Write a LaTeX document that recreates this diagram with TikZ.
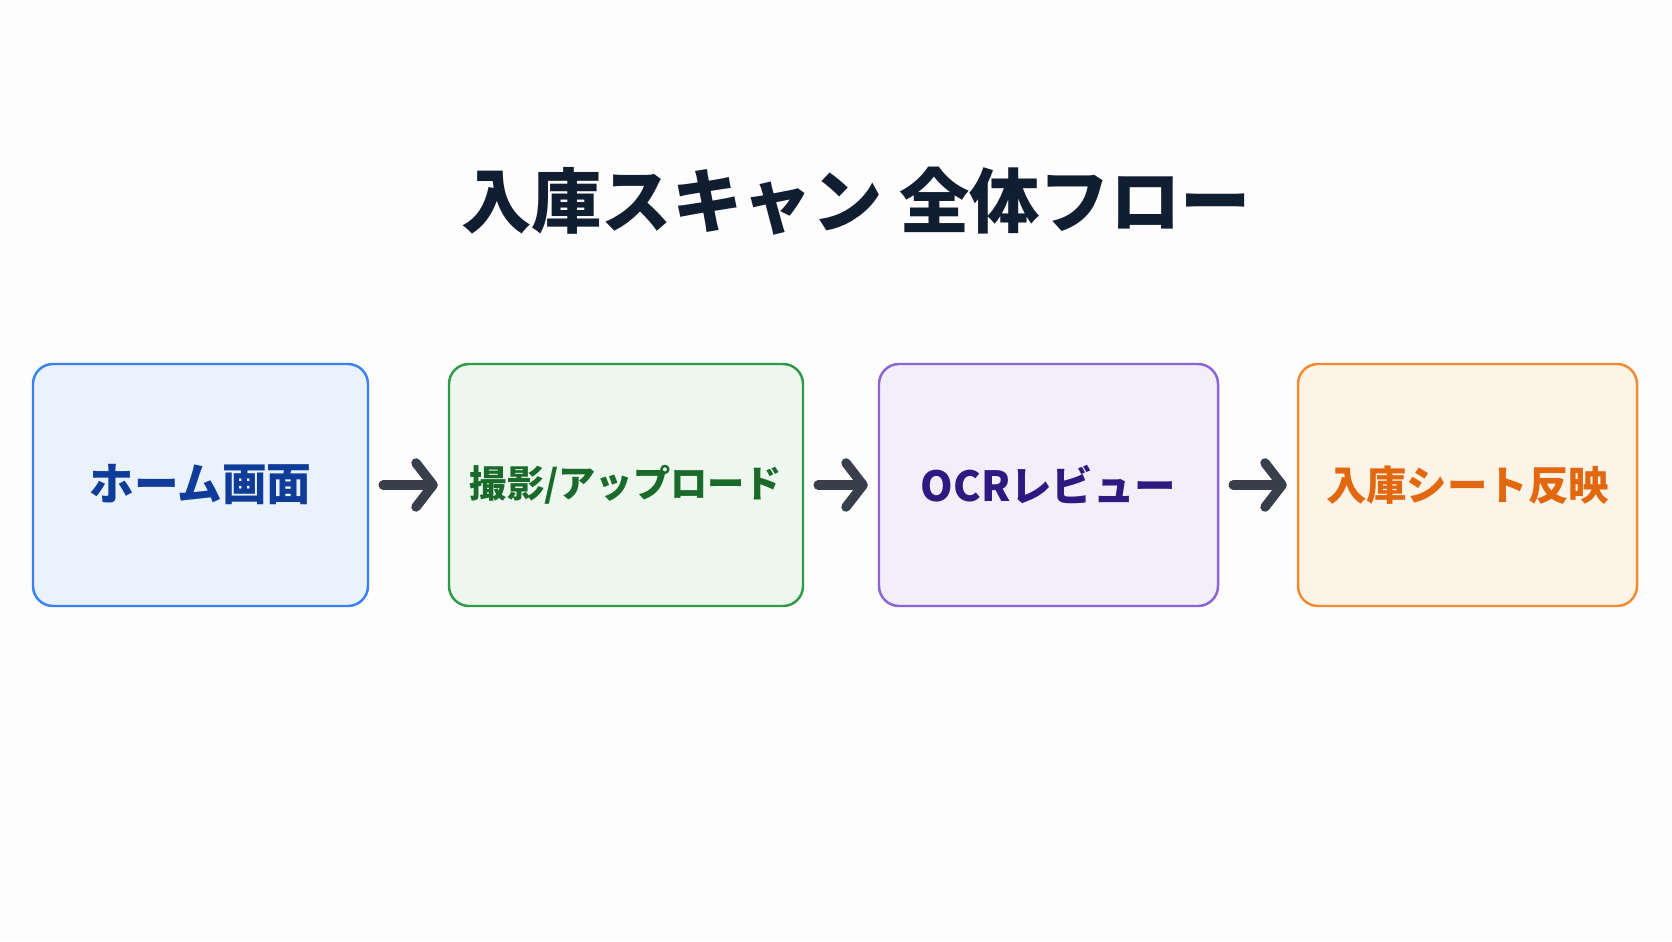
\documentclass[tikz,border=0pt]{standalone}
\usepackage{fontspec}
\setmainfont{Noto Sans CJK JP}
\usetikzlibrary{arrows.meta}

\definecolor{titleink}{HTML}{111D30}
\definecolor{arrowink}{HTML}{383F4A}
\definecolor{homeline}{HTML}{3B82F0}
\definecolor{homefill}{HTML}{EAF2FD}
\definecolor{homeink}{HTML}{0E3C98}
\definecolor{shotline}{HTML}{2F9A48}
\definecolor{shotfill}{HTML}{EDF7EE}
\definecolor{shotink}{HTML}{1A6A2C}
\definecolor{ocrline}{HTML}{8A65D3}
\definecolor{ocrfill}{HTML}{F2EFFB}
\definecolor{ocrink}{HTML}{2D1A80}
\definecolor{sheetline}{HTML}{F28A2E}
\definecolor{sheetfill}{HTML}{FEF3E7}
\definecolor{sheetink}{HTML}{E2680F}

\begin{document}
\begin{tikzpicture}[
    flowbox/.style={draw, rounded corners=0.2cm, line width=0.7pt,
        minimum height=2.42cm, inner sep=0pt, font=\bfseries},
    flowarrow/.style={arrowink, line width=2.7pt, line cap=round,
        -{Straight Barb[length=1.7mm, width=4.4mm, line join=round, line cap=round]},
        shorten <=0.14cm, shorten >=0.1cm}
]
    % Fond
    \fill[white!98.5!gray] (0,0) rectangle (16.72,9.41);
    \useasboundingbox (0,0) rectangle (16.72,9.41);
    % Titre
    \node[titleink, font=\fontsize{20pt}{24pt}\bfseries] (title) at (8.56,7.40) {入庫スキャン 全体フロー};
    % Etapes
    \node[flowbox, draw=homeline, fill=homefill, text=homeink, minimum width=3.35cm,
        font=\fontsize{12.7pt}{15pt}\bfseries] (home) at (2.005,4.56) {ホーム画面};
    \node[flowbox, draw=shotline, fill=shotfill, text=shotink, minimum width=3.54cm,
        font=\fontsize{10.6pt}{13pt}\bfseries] (shot) at (6.26,4.56) {撮影/アップロード};
    \node[flowbox, draw=ocrline, fill=ocrfill, text=ocrink, minimum width=3.39cm,
        font=\fontsize{11.8pt}{14pt}\bfseries] (ocr) at (10.485,4.56) {OCRレビュー};
    \node[flowbox, draw=sheetline, fill=sheetfill, text=sheetink, minimum width=3.39cm,
        font=\fontsize{11.5pt}{14pt}\bfseries] (sheet) at (14.675,4.56) {入庫シート反映};
    % Fleches
    \draw[flowarrow] (home) -- (shot);
    \draw[flowarrow] (shot) -- (ocr);
    \draw[flowarrow] (ocr) -- (sheet);
\end{tikzpicture}
\end{document}
